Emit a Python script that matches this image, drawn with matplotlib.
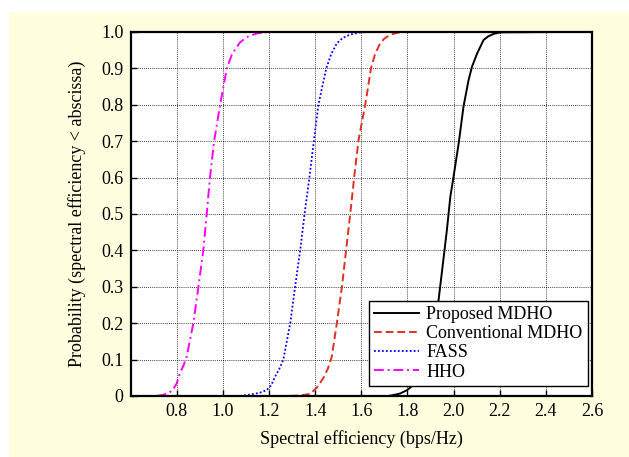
import matplotlib
matplotlib.use("Agg")
import matplotlib.pyplot as plt
from matplotlib.patches import Rectangle

plt.rcParams['font.family'] = ['Liberation Serif', 'DejaVu Serif']

# CDF samples of spectral efficiency for each scheme (x in bps/Hz, y probability)
proposed_x = [1.717, 1.75, 1.769, 1.798, 1.820, 1.84, 1.86, 1.88, 1.90, 1.92, 1.935,
              1.954, 1.971, 1.986, 2.000, 2.022, 2.043, 2.065, 2.080, 2.102, 2.13,
              2.15, 2.174, 2.203, 2.45]
proposed_y = [0.0, 0.004, 0.007, 0.016, 0.027, 0.045, 0.075, 0.12, 0.17, 0.22, 0.264,
              0.365, 0.456, 0.548, 0.603, 0.694, 0.795, 0.868, 0.905, 0.941, 0.978,
              0.988, 0.995, 0.999, 1.0]

conv_x = [1.292, 1.34, 1.38, 1.41, 1.436, 1.455, 1.472, 1.494, 1.516, 1.534, 1.552,
          1.569, 1.588, 1.617, 1.642, 1.66, 1.682, 1.70, 1.725, 1.75, 1.783, 2.35]
conv_y = [0.0, 0.002, 0.006, 0.025, 0.05, 0.075, 0.108, 0.20, 0.30, 0.40, 0.50,
          0.60, 0.703, 0.80, 0.90, 0.94, 0.969, 0.982, 0.992, 0.997, 1.0, 1.0]

fass_x = [1.075, 1.119, 1.16, 1.190, 1.21, 1.226, 1.245, 1.262, 1.292, 1.313, 1.335,
          1.354, 1.375, 1.393, 1.414, 1.448, 1.47, 1.494, 1.52, 1.552, 1.595, 1.63, 2.35]
fass_y = [0.0, 0.004, 0.009, 0.016, 0.03, 0.053, 0.075, 0.10, 0.20, 0.30, 0.40,
          0.50, 0.60, 0.694, 0.80, 0.90, 0.94, 0.969, 0.984, 0.993, 0.999, 1.0, 1.0]

hho_x = [0.713, 0.74, 0.765, 0.785, 0.80, 0.814, 0.83, 0.843, 0.872, 0.894, 0.915,
         0.930, 0.944, 0.962, 0.988, 1.017, 1.04, 1.075, 1.11, 1.147, 1.196, 1.40]
hho_y = [0.0, 0.003, 0.008, 0.018, 0.035, 0.063, 0.085, 0.108, 0.20, 0.30, 0.40,
         0.50, 0.60, 0.70, 0.80, 0.90, 0.94, 0.972, 0.988, 0.996, 1.0, 1.0]

xticks = [0.8, 1.0, 1.2, 1.4, 1.6, 1.8, 2.0, 2.2, 2.4, 2.6]
xtick_labels = ['0.8', '1.0', '1.2', '1.4', '1.6', '1.8', '2.0', '2.2', '2.4', '2.6']
yticks = [0, 0.1, 0.2, 0.3, 0.4, 0.5, 0.6, 0.7, 0.8, 0.9, 1.0]
ytick_labels = ['0', '0.1', '0.2', '0.3', '0.4', '0.5', '0.6', '0.7', '0.8', '0.9', '1.0']

fig = plt.figure(figsize=(6.29, 4.57), dpi=100, facecolor='white')
# pale yellow backdrop
fig.patches.append(Rectangle((9 / 629, 0), 1 - 9 / 629, 1 - 12 / 457,
                             transform=fig.transFigure, facecolor='#FFFFE0',
                             edgecolor='none', zorder=-1))

ax = fig.add_axes([130.6 / 629, 1 - 396 / 457, (592 - 130.6) / 629, (396 - 32) / 457])
ax.set_facecolor('white')

ax.plot(proposed_x, proposed_y, color='black', linestyle='-', lw=1.4, label='Proposed MDHO')
ax.plot(conv_x, conv_y, color='#E0301E', linestyle=(0, (4, 2)), lw=1.4, label='Conventional MDHO')
ax.plot(fass_x, fass_y, color='blue', linestyle=(0, (1, 1.2)), lw=1.3, label='FASS')
ax.plot(hho_x, hho_y, color='magenta', linestyle=(0, (5, 2, 1, 2)), lw=1.4, label='HHO')

ax.set_xlim(0.6, 2.6)
ax.set_ylim(0, 1.0)
ax.set_xticks(xticks)
ax.set_xticklabels(xtick_labels)
ax.set_yticks(yticks)
ax.set_yticklabels(ytick_labels)
ax.tick_params(direction='in', labelsize=13, length=4, width=1, pad=5)
ax.grid(True, color='black', linestyle=(0, (1, 1.5)), linewidth=0.6)
for s in ax.spines.values():
    s.set_linewidth(1.6)

ax.set_xlabel('Spectral efficiency (bps/Hz)', fontsize=13, labelpad=7)
ax.set_ylabel('Probability (spectral efficiency < abscissa)', fontsize=13, labelpad=11)

leg = ax.legend(loc='lower right', bbox_to_anchor=(588 / 629, 1 - 386 / 457),
                bbox_transform=fig.transFigure, borderaxespad=0, fontsize=13,
                fancybox=False, framealpha=1, edgecolor='black',
                handlelength=2.5, handletextpad=0.4, labelspacing=0.12,
                borderpad=0.3)
leg.get_frame().set_linewidth(1.0)

fig.savefig('out.png', dpi=100, facecolor=fig.get_facecolor())
